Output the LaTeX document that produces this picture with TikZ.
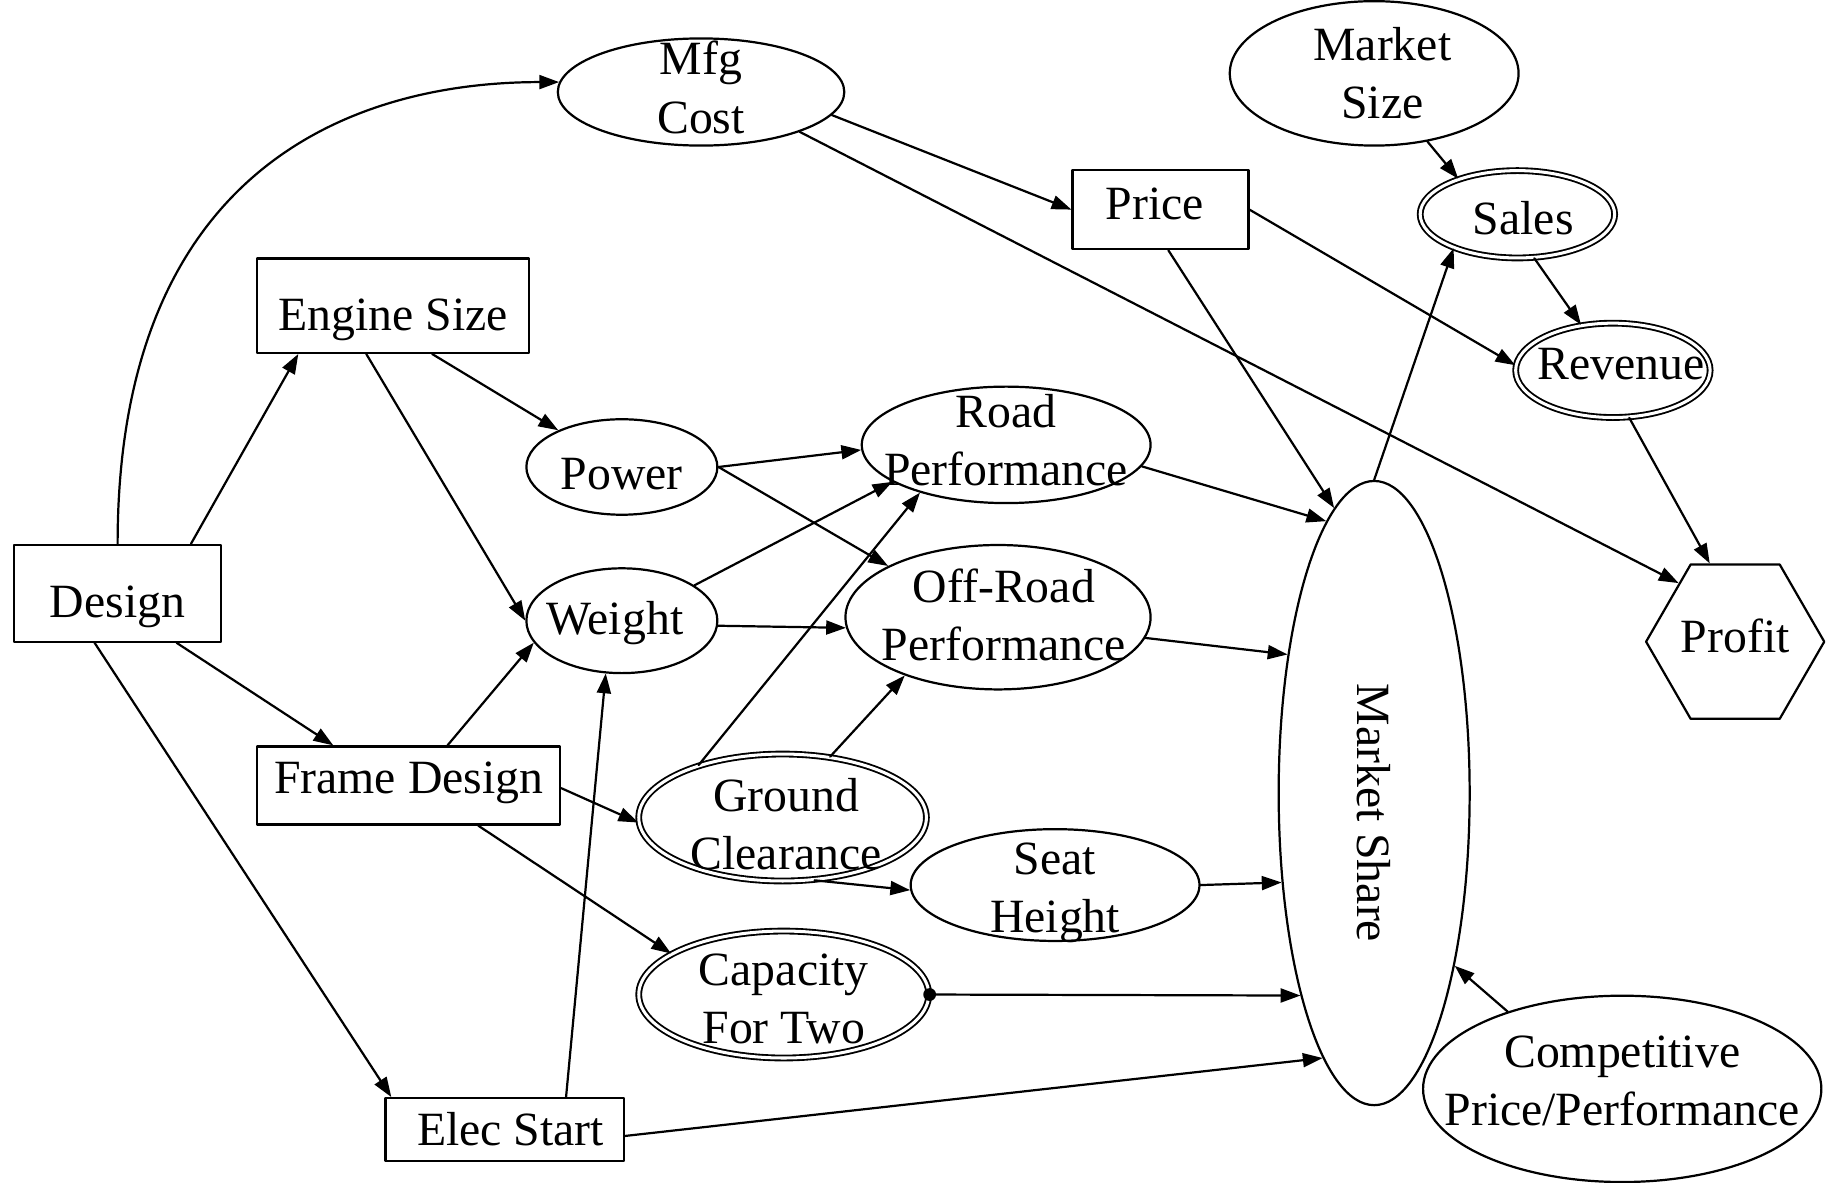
\documentclass[tikz,border=0pt]{standalone}
\usepackage{fontspec}
\setmainfont{Liberation Serif}
\usetikzlibrary{arrows.meta}
\usetikzlibrary{shapes.geometric}
\begin{document}
\begin{tikzpicture}[line cap=round,line join=round,>={Triangle[length=17pt,width=12pt]},x=1pt,y=-1pt,
    font=\fontsize{41}{50}\selectfont,line width=1.9pt,
    box/.style 2 args={draw,rectangle,inner sep=0pt,minimum width=#1pt,minimum height=#2pt},
    oval/.style 2 args={draw,ellipse,inner sep=0pt,minimum width=#1pt,minimum height=#2pt},
    dbl/.style={double,double distance=2.6pt,line width=1.6pt}]
    \useasboundingbox (0,0) rectangle (1568,1015);
    % decision boxes
    \node[box={178}{83},label={[yshift=-12pt]center:Design}] (design) at (101,509.5) {};
    \node[box={233}{81},label={[yshift=-12pt]center:Engine Size}] (engine) at (337.5,262.5) {};
    \node[box={260}{67},label={[yshift=2pt]center:Frame Design}] (frame) at (351,674.5) {};
    \node[box={205}{54},label={[xshift=5pt]center:Elec Start}] (elec) at (433.5,970) {};
    \node[box={151}{68},label={[xshift=-5pt,yshift=5pt]center:Price}] (price) at (996.5,180) {};
    % chance nodes
    \node[oval={246}{92},label={[align=center,yshift=4pt]center:Mfg\\Cost}] (mfg) at (602,79) {};
    \node[oval={248}{124},label={[align=center,xshift=7pt]center:Market\\Size}] (msize) at (1180,63) {};
    \node[oval={164}{82},label={[yshift=-6pt]center:Power}] (power) at (534,401) {};
    \node[oval={164}{90},label={[xshift=-6pt,yshift=-2pt]center:Weight}] (weight) at (534,533) {};
    \node[oval={248}{100},label={[align=center,yshift=4pt]center:Road\\Performance}] (road) at (864,382) {};
    \node[oval={262}{124},label={[align=center,xshift=5pt,yshift=2pt]center:Off-Road\\Performance}] (offroad) at (857,530) {};
    \node[oval={248}{96},label={[align=center,yshift=-7pt]center:Seat\\Height}] (seat) at (906,760) {};
    \node[oval={164}{536},label={[rotate=-90,xshift=17pt]center:Market Share}] (share) at (1180,681) {};
    \node[oval={342}{160},label={[align=center,yshift=7pt]center:Competitive\\Price/Performance}] (comp) at (1393,935) {};
    % deterministic nodes
    \node[oval={167}{75},dbl,label={[xshift=5pt,yshift=-3pt]center:Sales}] (sales) at (1303,184) {};
    \node[oval={167}{81},dbl,label={[xshift=7pt,yshift=5pt]center:Revenue}] (rev) at (1385,318) {};
    \node[oval={247}{109},dbl,label={[align=center,xshift=3pt,yshift=-6pt]center:Ground\\Clearance}] (ground) at (672,702) {};
    \node[oval={249}{109},dbl,label={[align=center,yshift=-4pt]center:Capacity\\For Two}] (cap) at (673,854) {};
    % value node
    \node[draw,regular polygon,regular polygon sides=6,inner sep=0pt,minimum size=153pt,label={[yshift=5pt]center:Profit}] (profit) at (1490,551) {};
    % arcs
    \draw[->] (design.north) .. controls +(0,-320) and +(-180,0) .. (mfg.176);
    \draw[->] (design.34) -- (engine.207);
    \draw[->] (design.-40) -- (frame.152);
    \draw[->] (design.245) -- (elec.164);
    \draw[->] (engine.-51) -- (power.150);
    \draw[->] (engine.241) -- (weight.west);
    \draw[->] (frame.46) -- (weight.194);
    \draw[->] (frame.-1) -- (ground.182);
    \draw[->] (frame.-30) -- (cap.160);
    \draw[->] (elec.28) -- (weight.253);
    \draw[->] (elec.-3) -- (share.259);
    \draw[->] (power.east) -- (road.182);
    \draw[->] (power.east) -- (offroad.155);
    \draw[->] (weight.26) -- (road.198);
    \draw[->] (weight.-3) -- (offroad.184);
    \draw[->] (ground.148) -- (road.209);
    \draw[->] (ground.52) -- (offroad.212);
    \draw[->] (ground.-63) -- (seat.182);
    \draw[->] (seat.east) -- (share.224);
    \draw[->] (cap.east) -- (share.250);
    \fill (cap.east) circle (5.5pt);
    \draw[->] (road.-9) -- (share.100);
    \draw[->] (offroad.-8) -- (share.122);
    \draw[->] (comp.146) -- (share.-65);
    \draw[->] (mfg.-10) -- (price.west);
    \draw[->] (mfg.-22) -- (profit.134);
    \draw[->] (price.-79) -- (share.98);
    \draw[->] (price.east) -- (rev.177);
    \draw[->] (share.north) -- (sales.208);
    \draw[->] (msize.-52) -- (sales.149);
    \draw[->] (sales.-69) -- (rev.125);
    \draw[->] (rev.-71) -- (profit.108);
\end{tikzpicture}
\end{document}
